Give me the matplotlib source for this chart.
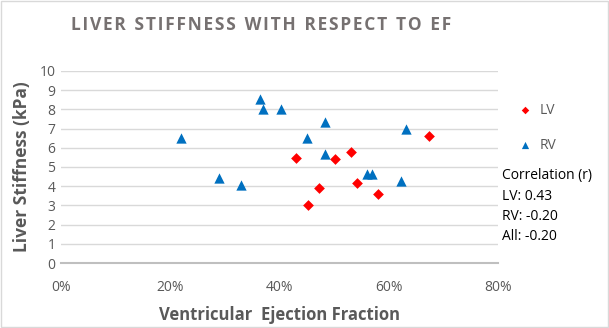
import matplotlib.pyplot as plt
from matplotlib.patches import Rectangle

# LV and RV ejection fraction (%) vs liver stiffness (kPa)
lv_ef = [43, 45.2, 47.3, 50.2, 53, 54.2, 58.1, 67.3]
lv_ls = [5.45, 3.0, 3.9, 5.4, 5.8, 4.15, 3.6, 6.6]
rv_ef = [22, 29, 33, 36.5, 37, 40.3, 45, 48.3, 48.3, 56, 57, 62.2, 63.2]
rv_ls = [6.5, 4.45, 4.05, 8.55, 8.0, 8.0, 6.5, 7.35, 5.65, 4.65, 4.65, 4.25, 6.95]
correlation_lines = ["Correlation (r)", "LV: 0.43", "RV: -0.20", "All: -0.20"]

plt.rcParams['font.family'] = ['Open Sans', 'DejaVu Sans']
grey = '#595959'

fig = plt.figure(figsize=(6.09, 3.28), dpi=100)
ax = fig.add_axes([0.1, 0.198, 0.718, 0.586])

ax.scatter(lv_ef, lv_ls, marker='D', s=30, color='#ff0000', zorder=3, label='LV', linewidths=0)
ax.scatter(rv_ef, rv_ls, marker='^', s=55, color='#0070c0', zorder=3, label='RV', linewidths=0)

ax.set_xlim(0, 80)
ax.set_ylim(0, 10)
ax.set_xticks([0, 20, 40, 60, 80])
ax.set_xticklabels(['0%', '20%', '40%', '60%', '80%'])
ax.set_yticks(range(0, 11))
ax.grid(axis='y', color='#d9d9d9', linewidth=1)
ax.set_axisbelow(True)
for side in ['top', 'right', 'left']:
    ax.spines[side].set_visible(False)
ax.spines['bottom'].set_color('#bfbfbf')
ax.spines['bottom'].set_linewidth(1.5)
ax.tick_params(length=0, colors=grey, labelsize=10)
ax.tick_params(axis='x', pad=12)
ax.tick_params(axis='y', pad=4)

ax.set_xlabel('Ventricular  Ejection Fraction', fontsize=12, fontweight='bold', color=grey, labelpad=8)
ax.set_ylabel('Liver Stiffness (kPa)', fontsize=12.5, fontweight='bold', color=grey, labelpad=6)

title = 'LIVER STIFFNESS WITH RESPECT TO EF'
spaced = '\u2002'.join('\u200a'.join(word) for word in title.split(' '))
fig.text(261 / 609, 1 - 25 / 328, spaced, ha='center', va='center',
         fontsize=12.5, fontweight='bold', color='#767171')

ax.legend(loc='upper left', bbox_to_anchor=(1.0, 0.90), frameon=False, fontsize=10,
          labelcolor=grey, markerscale=0.7, handletextpad=0.1, labelspacing=1.45)

for i, line in enumerate(correlation_lines):
    fig.text(0.824, 1 - (176 + 20 * i) / 328, line, ha='left', va='center', fontsize=10, color='black')

fig.patches.append(Rectangle((0.001, 0.002), 0.997, 0.995, transform=fig.transFigure,
                             fill=False, edgecolor='#d9d9d9', linewidth=1))

fig.savefig('out.png', dpi=100)
